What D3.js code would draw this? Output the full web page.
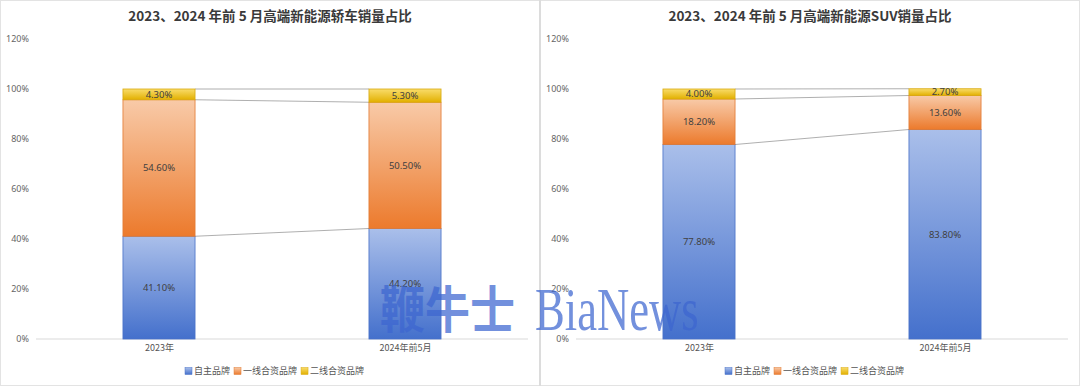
<!DOCTYPE html>
<html>
<head>
<meta charset="utf-8">
<script src="https://cdn.jsdelivr.net/npm/d3@7"></script>
<style>
  body { margin: 0; background: #fff; }
  text { font-family: "Noto Sans CJK SC", "Noto Sans", sans-serif; }
</style>
</head>
<body>
<div id="chart-area"></div>
<script>
// datos
var categories = ["2023年", "2024年前5月"];
var seriesNames = ["自主品牌", "一线合资品牌", "二线合资品牌"];
var sedanOwn = [41.1, 44.2];
var sedanFirst = [54.6, 50.5];
var sedanSecond = [4.3, 5.3];
var suvOwn = [77.8, 83.8];
var suvFirst = [18.2, 13.6];
var suvSecond = [4.0, 2.7];
var yTicks = [0, 20, 40, 60, 80, 100, 120];
var titles = ["2023、2024 年前 5 月高端新能源轿车销量占比", "2023、2024 年前 5 月高端新能源SUV销量占比"];

var colors = [
  { top: "#aabfea", bottom: "#4470cc", stroke: "#4a72c8" },
  { top: "#f8caa8", bottom: "#ec7a2c", stroke: "#e27a32" },
  { top: "#f9dc6a", bottom: "#e2b000", stroke: "#d9aa10" }
];

var W = 1080, H = 386;
var svg = d3.select("#chart-area").append("svg")
  .attr("width", W).attr("height", H);

var defs = svg.append("defs");
colors.forEach(function (c, i) {
  var g = defs.append("linearGradient").attr("id", "grad" + i)
    .attr("x1", 0).attr("y1", 0).attr("x2", 0).attr("y2", 1);
  g.append("stop").attr("offset", "0%").attr("stop-color", c.top);
  g.append("stop").attr("offset", "100%").attr("stop-color", c.bottom);
});

// bordes de los paneles
svg.append("rect").attr("x", 0.5).attr("y", 0.5).attr("width", W - 1).attr("height", H - 1)
  .attr("fill", "none").attr("stroke", "#e3e3e3");
svg.append("line").attr("x1", 540).attr("x2", 540).attr("y1", 0).attr("y2", H)
  .attr("stroke", "#dcdcdc").attr("stroke-width", 2);

function drawPanel(offset, title, series) {
  var g = svg.append("g").attr("transform", "translate(" + offset + ",0)");

  var x = d3.scalePoint().domain(categories).range([36, 528]).padding(0.5);
  var y = d3.scaleLinear().domain([0, 120]).range([339, 39]);
  var barW = x.step() * 0.293;

  g.append("text").attr("x", 270).attr("y", 21).attr("text-anchor", "middle")
    .attr("font-size", "13.5px").attr("font-weight", "bold").attr("fill", "#3a3a3a")
    .text(title);

  // eje y (solo etiquetas)
  var yAxis = d3.axisLeft(y).tickValues(yTicks).tickSize(0).tickPadding(0)
    .tickFormat(function (d) { return d + "%"; });
  var yG = g.append("g").attr("transform", "translate(29,0)").call(yAxis);
  yG.select(".domain").remove();
  yG.selectAll("text").attr("font-size", "9px").attr("fill", "#666")
    .style("font-family", "'Noto Sans', sans-serif");

  // linea base
  g.append("line").attr("x1", 36).attr("x2", 528).attr("y1", y(0)).attr("y2", y(0))
    .attr("stroke", "#d9d9d9").attr("stroke-width", 1);

  // eje x
  var xAxis = d3.axisBottom(x).tickSize(0).tickPadding(0);
  var xG = g.append("g").attr("transform", "translate(0," + (y(0) + 6) + ")").call(xAxis);
  xG.select(".domain").remove();
  xG.selectAll("text").attr("font-size", "9px").attr("fill", "#555").attr("dy", "0.71em");

  var stacked = d3.stack().keys([0, 1, 2])(categories.map(function (c, i) {
    return [series[0][i], series[1][i], series[2][i]];
  }));

  // lineas de conexion
  stacked.forEach(function (layer) {
    g.append("line")
      .attr("x1", x(categories[0]) + barW / 2).attr("y1", y(layer[0][1]))
      .attr("x2", x(categories[1]) - barW / 2).attr("y2", y(layer[1][1]))
      .attr("stroke", "#9a9a9a").attr("stroke-width", 0.8);
  });

  stacked.forEach(function (layer, si) {
    var grp = g.append("g");
    grp.selectAll("rect").data(layer).enter().append("rect")
      .attr("x", function (d, i) { return x(categories[i]) - barW / 2; })
      .attr("y", function (d) { return y(d[1]); })
      .attr("width", barW)
      .attr("height", function (d) { return y(d[0]) - y(d[1]); })
      .attr("fill", "url(#grad" + si + ")")
      .attr("stroke", colors[si].stroke).attr("stroke-width", 0.8);
    grp.selectAll("text").data(layer).enter().append("text")
      .attr("x", function (d, i) { return x(categories[i]); })
      .attr("y", function (d) { return (y(d[0]) + y(d[1])) / 2; })
      .attr("dy", "0.35em").attr("text-anchor", "middle")
      .attr("font-size", "9.5px").attr("fill", "#404040")
      .style("font-family", "'Noto Sans', sans-serif")
      .text(function (d) { return (d[1] - d[0]).toFixed(2) + "%"; });
  });

  // leyenda
  var leg = g.append("g").attr("transform", "translate(185,371)");
  var lx = 0;
  seriesNames.forEach(function (name, i) {
    leg.append("rect").attr("x", lx).attr("y", -3.5).attr("width", 7).attr("height", 7)
      .attr("fill", "url(#grad" + i + ")").attr("stroke", colors[i].stroke).attr("stroke-width", 0.5);
    var t = leg.append("text").attr("x", lx + 9).attr("y", 0).attr("dy", "0.35em")
      .attr("font-size", "9px").attr("fill", "#555").text(name);
    lx += 9 + t.node().getComputedTextLength() + 4;
  });
}

drawPanel(0, titles[0], [sedanOwn, sedanFirst, sedanSecond]);
drawPanel(540, titles[1], [suvOwn, suvFirst, suvSecond]);

// marca de agua
var wm = svg.append("g").attr("opacity", 0.72);
wm.append("text").attr("transform", "translate(380,328) scale(0.9,1)")
  .attr("font-size", "50px").attr("font-weight", "bold").attr("fill", "#3d66d0")
  .text("鞭牛士");
wm.append("text").attr("transform", "translate(535,330) scale(0.72,1)")
  .style("font-family", "'Liberation Serif', serif")
  .attr("font-size", "62px").attr("fill", "#3d66d0")
  .text("BiaNews");
</script>
</body>
</html>
